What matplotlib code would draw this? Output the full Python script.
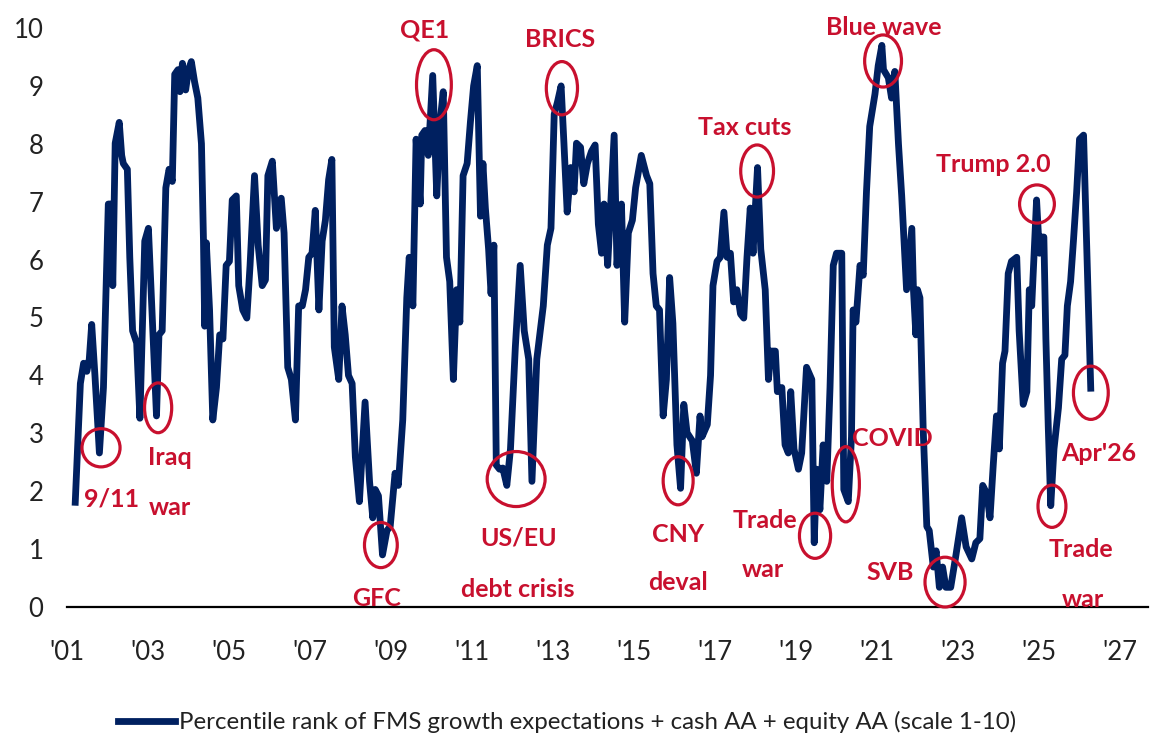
import matplotlib
matplotlib.use("Agg")
import matplotlib.pyplot as plt
from matplotlib.patches import Ellipse
from matplotlib.lines import Line2D

# decimal year of each reading, and the indicator value (scale 1-10)
dates = [
    2001.20, 2001.33, 2001.41, 2001.49, 2001.55, 2001.61, 2001.69, 2001.80, 2001.90, 2002.02,
    2002.08, 2002.13, 2002.19, 2002.29, 2002.35, 2002.39, 2002.49, 2002.55, 2002.62, 2002.72,
    2002.80, 2002.92, 2003.01, 2003.21, 2003.27, 2003.35, 2003.44, 2003.52, 2003.60, 2003.66,
    2003.74, 2003.79, 2003.85, 2003.93, 2004.00, 2004.07, 2004.15, 2004.23, 2004.32, 2004.37,
    2004.40, 2004.44, 2004.52, 2004.60, 2004.69, 2004.77, 2004.85, 2004.93, 2005.01, 2005.08,
    2005.18, 2005.24, 2005.34, 2005.44, 2005.52,
    2005.63, 2005.72, 2005.82, 2005.90, 2005.96, 2006.07, 2006.17, 2006.29, 2006.36, 2006.45,
    2006.54, 2006.64, 2006.72, 2006.81, 2006.89, 2006.97, 2007.05, 2007.13, 2007.22, 2007.30,
    2007.38, 2007.46, 2007.54, 2007.60, 2007.71, 2007.79, 2007.87, 2007.95, 2008.04, 2008.12,
    2008.22, 2008.36, 2008.47, 2008.55, 2008.61, 2008.69, 2008.79, 2008.90, 2008.98, 2009.10,
    2009.18, 2009.29, 2009.39, 2009.45, 2009.54, 2009.62, 2009.72, 2009.76, 2009.84, 2009.92,
    2010.03, 2010.13, 2010.21, 2010.29, 2010.37, 2010.45, 2010.54, 2010.62, 2010.70,
    2010.78, 2010.88, 2010.96, 2011.04, 2011.13, 2011.21, 2011.27, 2011.33, 2011.41, 2011.47,
    2011.54, 2011.60, 2011.68, 2011.76, 2011.86, 2011.95, 2012.07, 2012.19, 2012.29, 2012.40,
    2012.48, 2012.60, 2012.76, 2012.86, 2012.95, 2013.03, 2013.11, 2013.20, 2013.27, 2013.35,
    2013.44, 2013.52, 2013.58, 2013.68, 2013.76, 2013.85, 2013.95, 2014.04, 2014.12, 2014.20,
    2014.26, 2014.35, 2014.45, 2014.51, 2014.58, 2014.69, 2014.77, 2014.86, 2014.96, 2015.04,
    2015.18, 2015.31, 2015.39, 2015.47, 2015.55, 2015.63, 2015.72, 2015.80, 2015.88,
    2015.96, 2016.06, 2016.15, 2016.23, 2016.31, 2016.44, 2016.54, 2016.63, 2016.68, 2016.81,
    2016.89, 2016.95, 2017.05, 2017.13, 2017.22, 2017.30, 2017.38, 2017.46, 2017.54, 2017.63,
    2017.71, 2017.79, 2017.87, 2017.94, 2017.99, 2018.05, 2018.13, 2018.24, 2018.32, 2018.38,
    2018.49, 2018.54, 2018.65, 2018.73, 2018.81, 2018.87, 2018.95, 2019.06, 2019.14, 2019.26,
    2019.39, 2019.45, 2019.51, 2019.59, 2019.67, 2019.76, 2019.84, 2019.92, 2020.00, 2020.13,
    2020.18, 2020.29, 2020.37, 2020.41, 2020.48, 2020.58, 2020.66, 2020.74, 2020.82, 2020.95,
    2021.03,
    2021.12, 2021.16, 2021.28, 2021.36, 2021.44, 2021.53, 2021.61, 2021.73, 2021.86, 2021.90,
    2021.96, 2022.00, 2022.06, 2022.14, 2022.23, 2022.29, 2022.39, 2022.46, 2022.54, 2022.62,
    2022.70, 2022.82, 2022.95, 2023.09, 2023.20, 2023.34, 2023.44, 2023.54, 2023.61, 2023.71,
    2023.79, 2023.87, 2023.95, 2024.02, 2024.10, 2024.16, 2024.24, 2024.32, 2024.45, 2024.51,
    2024.61, 2024.70, 2024.76, 2024.82, 2024.94, 2025.01, 2025.07, 2025.12, 2025.17, 2025.23,
    2025.29, 2025.37, 2025.48, 2025.56, 2025.64, 2025.70, 2025.78, 2025.85, 2025.93, 2026.00,
    2026.10, 2026.28,
]
values = [
    1.75, 3.86, 4.21, 4.07, 4.28, 4.88, 4.00, 2.66, 3.79, 6.96,
    6.96, 5.55, 8.01, 8.37, 7.80, 7.66, 7.56, 6.04, 4.77, 4.56,
    3.26, 6.32, 6.54, 3.30, 4.70, 4.77, 7.24, 7.56, 7.35, 9.20,
    9.28, 8.90, 9.39, 8.93, 9.28, 9.42, 9.07, 8.79, 8.00, 6.32,
    4.85, 6.29, 5.13, 3.23, 3.79, 4.70, 4.63, 5.90, 5.97, 7.03,
    7.10, 5.55, 5.13, 4.99, 5.90,
    7.45, 6.25, 5.55, 5.65, 7.45, 7.70, 6.54, 7.06, 6.46, 4.14,
    3.93, 3.23, 5.20, 5.20, 5.48, 6.04, 6.11, 6.85, 5.13, 6.32,
    6.68, 7.38, 7.73, 4.49, 3.93, 5.20, 4.70, 4.00, 3.86, 2.59,
    1.82, 3.54, 2.17, 1.54, 2.03, 1.92, 0.90, 1.32, 1.39, 2.31,
    2.10, 3.23, 5.34, 6.04, 5.20, 8.08, 6.96, 8.15, 8.23, 7.80,
    9.18, 7.10, 8.37, 8.90, 6.04, 5.62, 3.93, 5.48, 4.92,
    7.45, 7.66, 8.37, 9.00, 9.35, 6.75, 7.66, 6.89, 6.18, 5.41,
    6.25, 2.45, 2.38, 2.40, 2.10, 2.73, 4.49, 5.90, 4.77, 4.28,
    2.17, 4.28, 5.20, 6.25, 6.54, 8.51, 8.72, 9.00, 8.01, 6.82,
    7.59, 7.17, 8.01, 7.94, 7.31, 7.66, 7.87, 7.98, 6.61, 6.11,
    6.96, 5.90, 7.31, 8.15, 5.90, 6.96, 4.92, 6.46, 6.68, 7.24,
    7.80, 7.45, 7.31, 5.76, 5.20, 5.13, 3.30, 3.93, 5.69,
    4.90, 2.80, 2.05, 3.50, 3.01, 2.87, 2.31, 3.30, 2.94, 3.15,
    4.00, 5.55, 5.97, 6.04, 6.82, 6.04, 6.11, 5.27, 5.48, 5.06,
    4.99, 6.04, 6.89, 6.11, 6.82, 7.59, 6.18, 5.48, 3.93, 4.42,
    4.42, 3.72, 3.79, 2.80, 2.66, 3.72, 2.73, 2.38, 2.66, 4.14,
    3.93, 1.11, 2.38, 1.68, 2.80, 2.17, 3.79, 5.90, 6.11, 6.11,
    2.03, 1.82, 2.94, 5.13, 4.92, 5.90, 5.73, 7.17, 8.30, 8.86,
    9.35,
    9.70, 9.28, 9.14, 8.79, 9.25, 8.00, 7.10, 5.48, 6.54, 5.48,
    4.70, 5.48, 5.34, 3.08, 1.39, 1.32, 0.69, 0.97, 0.34, 0.69,
    0.34, 0.34, 0.90, 1.54, 1.04, 0.83, 1.11, 1.18, 2.10, 1.96,
    1.54, 2.45, 3.30, 2.73, 4.21, 4.42, 5.76, 5.97, 6.04, 4.77,
    3.50, 3.72, 5.48, 5.20, 7.03, 6.11, 6.39, 6.39, 4.63, 3.08,
    1.75, 2.73, 3.44, 4.28, 4.35, 5.20, 5.62, 6.32, 7.17, 8.08,
    8.15, 3.72,
]

tick_years = list(range(2001, 2028, 2))
tick_labels = ["'01", "'03", "'05", "'07", "'09", "'11", "'13", "'15", "'17", "'19",
               "'21", "'23", "'25", "'27"]
y_ticks = list(range(0, 11))
legend_label = "Percentile rank of FMS growth expectations + cash AA + equity AA (scale 1-10)"

# event labels: text, x, baseline y
event_text = ["9/11", "Iraq", "war", "GFC", "QE1", "US/EU", "debt crisis", "BRICS",
              "CNY", "deval", "Tax cuts", "Trade", "war", "COVID", "Blue wave", "SVB",
              "Trump 2.0", "Trade", "war", "Apr'26"]
event_x = [2002.09, 2003.54, 2003.54, 2008.65, 2009.84, 2012.14, 2012.14, 2013.17,
           2016.09, 2016.09, 2017.74, 2018.23, 2018.19, 2021.37, 2021.17, 2021.32,
           2023.86, 2026.04, 2026.09, 2026.48]
event_y = [1.73, 2.45, 1.59, 0.02, 9.83, 1.07, 0.17, 9.67,
           1.12, 0.29, 8.15, 1.36, 0.52, 2.78, 9.88, 0.47,
           7.51, 0.86, 0.0, 2.52]

# circles round the events: centre x, centre y, width (years), height (scale units)
circle_x = [2001.84, 2003.25, 2008.75, 2010.06, 2012.09, 2013.22, 2016.09, 2018.04,
            2019.47, 2020.23, 2021.15, 2022.68, 2024.95, 2025.32, 2026.28]
circle_y = [2.75, 3.44, 1.07, 9.02, 2.21, 8.96, 2.18, 7.53,
            1.23, 2.12, 9.43, 0.43, 6.96, 1.74, 3.70]
circle_w = [0.94, 0.67, 0.81, 0.86, 1.43, 0.77, 0.74, 0.81,
            0.77, 0.67, 0.91, 0.99, 0.86, 0.69, 0.86]
circle_h = [0.66, 0.86, 0.78, 1.21, 0.95, 0.92, 0.83, 0.90,
            0.78, 1.30, 0.90, 0.86, 0.66, 0.73, 0.92]

navy = "#002060"
red = "#C8102E"

plt.rcParams['font.family'] = ['Lato', 'DejaVu Sans']

W, H = 1150, 741
fig = plt.figure(figsize=(W / 100, H / 100), dpi=100)
ax = fig.add_axes([67 / W, 1 - 607 / H, (1148 - 67) / W, (607 - 28) / H])

ax.plot(dates, values, color=navy, lw=4.9, solid_joinstyle='round', solid_capstyle='butt')

for i in range(len(circle_x)):
    ax.add_patch(Ellipse((circle_x[i], circle_y[i]), circle_w[i], circle_h[i],
                         fill=False, ec=red, lw=2.3, clip_on=False, zorder=4))

for i in range(len(event_text)):
    ax.text(event_x[i], event_y[i], event_text[i], color=red, fontsize=18,
            fontweight='bold', ha='center', va='baseline', clip_on=False, zorder=5)

ax.set_xlim(2001.0, 2001 + (1148 - 67) / 40.5)
ax.set_ylim(0, 10)
ax.set_xticks(tick_years)
ax.set_xticklabels(tick_labels)
ax.set_yticks(y_ticks)
ax.tick_params(axis='both', length=0, labelsize=18.5, colors='#222222')
ax.tick_params(axis='x', pad=24)
ax.tick_params(axis='y', pad=17)

for side in ['top', 'right', 'left']:
    ax.spines[side].set_visible(False)
ax.spines['bottom'].set_color('black')
ax.spines['bottom'].set_linewidth(1.6)

handle = Line2D([], [], color=navy, lw=4.9)
fig.legend([handle], [legend_label], loc='center', bbox_to_anchor=(567 / W, 1 - 722 / H),
           frameon=False, fontsize=17.3, handlelength=2.4, handletextpad=0.15,
           labelcolor='#222222')

fig.savefig("out.png", dpi=100)
